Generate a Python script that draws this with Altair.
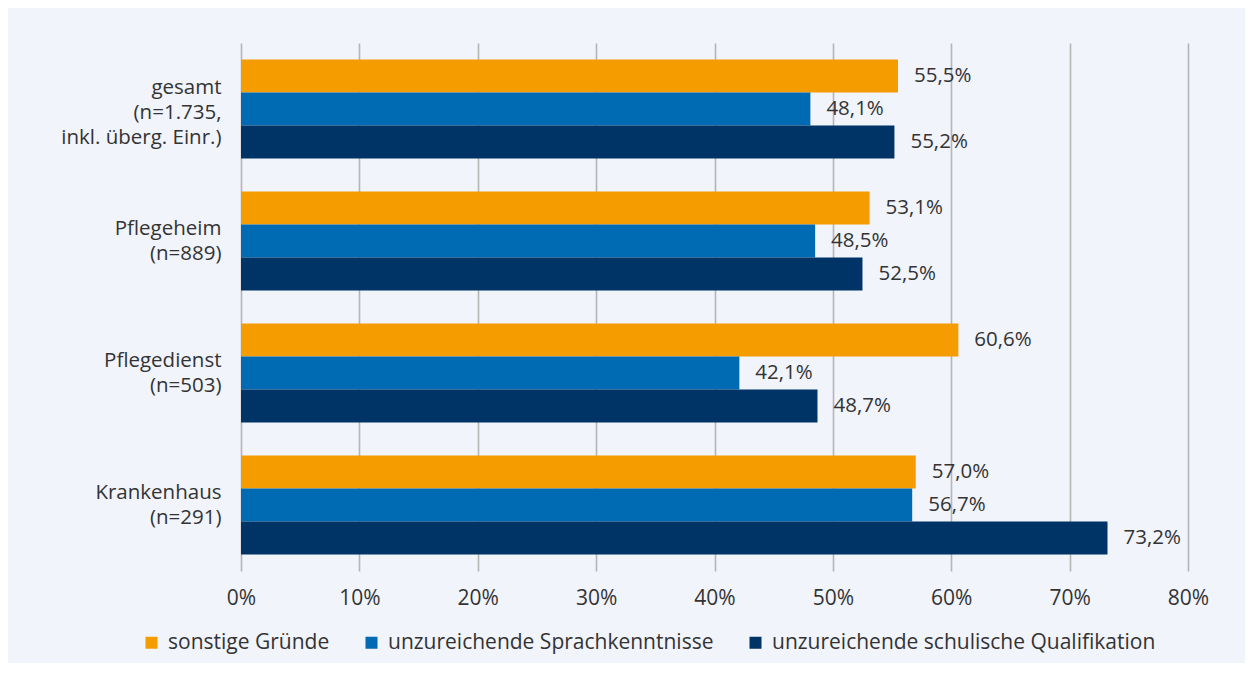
import altair as alt
import pandas as pd

categories = [
    "gesamt\n(n=1.735,\ninkl. überg. Einr.)",
    "Pflegeheim\n(n=889)",
    "Pflegedienst\n(n=503)",
    "Krankenhaus\n(n=291)",
]
series = [
    "sonstige Gründe",
    "unzureichende Sprachkenntnisse",
    "unzureichende schulische Qualifikation",
]
sonstige = [55.5, 53.1, 60.6, 57.0]
sprache = [48.1, 48.5, 42.1, 56.7]
schule = [55.2, 52.5, 48.7, 73.2]
colors = ["#f59c00", "#006ab3", "#003366"]
x_ticks = [0, 10, 20, 30, 40, 50, 60, 70, 80]

rows = []
for vals, s in zip([sonstige, sprache, schule], series):
    for c, v in zip(categories, vals):
        rows.append({"Kategorie": c, "Serie": s, "Wert": v,
                     "Label": f"{v:.1f}".replace(".", ",") + "%"})
df = pd.DataFrame(rows)

FONT = "Open Sans"
FS = 21
TXT = "#333333"

y_enc = alt.Y("Kategorie:N", sort=categories, title=None,
              scale=alt.Scale(paddingInner=0.25, paddingOuter=0.125),
              axis=alt.Axis(domain=False, ticks=False, labelFontSize=20.5,
                            labelColor=TXT, labelFont=FONT, labelPadding=20,
                            labelLineHeight=25, labelLimit=300,
                            labelOffset={"condition": {"test": "indexof(datum.value, 'gesamt') >= 0",
                                                       "value": -21},
                                         "value": -12.5},
                            labelExpr="split(datum.label, '\\n')"))
yoff = alt.YOffset("Serie:N", sort=series, scale=alt.Scale(paddingInner=0, paddingOuter=0))
x_enc = alt.X("Wert:Q", title=None,
              scale=alt.Scale(domain=[0, 80], nice=False, zero=True),
              axis=alt.Axis(values=x_ticks, domain=False, ticks=False, grid=True,
                            gridColor="#b5b5b5", gridWidth=1.6, labelFlush=False,
                            labelFontSize=FS, labelColor=TXT, labelFont=FONT,
                            labelPadding=16, labelExpr="datum.value + '%'"))

bars = alt.Chart(df).mark_bar().encode(
    x=x_enc,
    y=y_enc,
    yOffset=yoff,
    color=alt.Color("Serie:N", sort=series,
                    scale=alt.Scale(domain=series, range=colors),
                    legend=alt.Legend(title=None, orient="none", legendX=-100, legendY=589,
                                      direction="horizontal", symbolType="square",
                                      symbolSize=144, symbolStrokeWidth=0,
                                      labelFontSize=FS, labelFont=FONT, labelColor=TXT,
                                      labelLimit=600, columnPadding=31, labelOffset=6)),
)

texts = alt.Chart(df).mark_text(align="left", baseline="middle", dx=16,
                                fontSize=20.5, font=FONT, color=TXT).encode(
    x="Wert:Q",
    y=alt.Y("Kategorie:N", sort=categories),
    yOffset=alt.YOffset("Serie:N", sort=series),
    text="Label:N",
)

chart = alt.layer(bars, texts).properties(
    width=947, height=528,
    autosize=alt.AutoSizeParams(type="none"),
    padding={"left": 233, "top": 35, "right": 57, "bottom": 92},
    background="#f1f4fb",
).configure_view(stroke=None)

chart.save("out.html", embed_options={"renderer": "svg", "actions": False})
